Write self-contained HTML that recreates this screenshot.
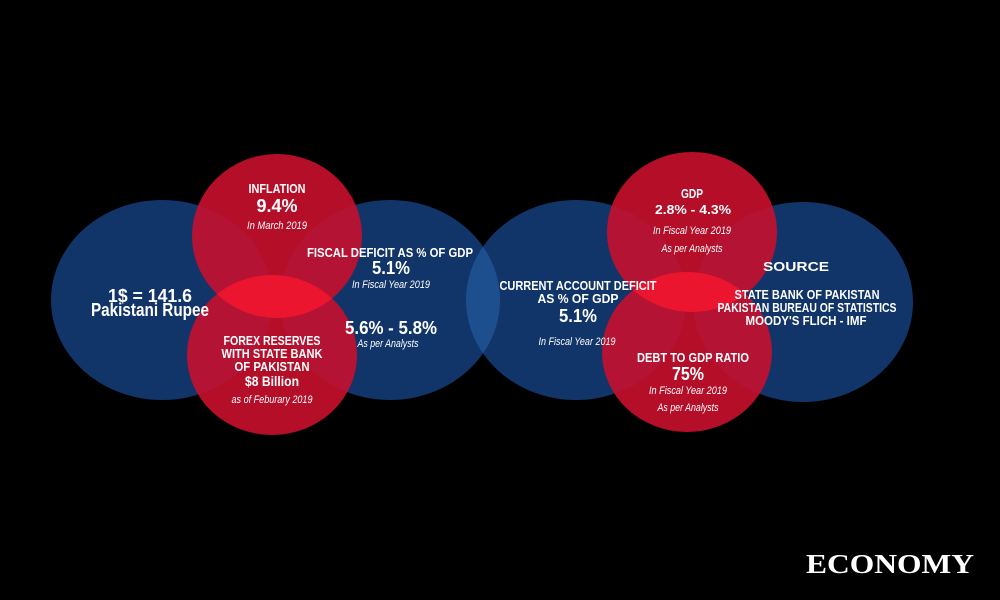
<!DOCTYPE html>
<html><head><meta charset="utf-8"><style>
html,body{margin:0;padding:0;background:#000;}
svg{display:block}
text{font-family:"Liberation Sans Narrow","Liberation Sans",sans-serif;fill:#fff;text-anchor:middle}
.b{font-weight:bold}
.i{font-style:italic;font-size:11px}
</style></head><body>
<svg width="1000" height="600" viewBox="0 0 1000 600">
<defs>
<clipPath id="c1"><ellipse cx="277" cy="236" rx="85" ry="82"/></clipPath>
<clipPath id="c2"><ellipse cx="692" cy="232" rx="85" ry="80"/></clipPath>
<clipPath id="cb1"><ellipse cx="390" cy="300" rx="110" ry="100"/></clipPath>
<clipPath id="cb2"><ellipse cx="803" cy="302" rx="110" ry="100"/></clipPath>
</defs>
<rect width="1000" height="600" fill="#000"/>
<g fill="#123a72" fill-opacity="0.92">
<ellipse cx="162" cy="300" rx="111" ry="100"/>
<ellipse cx="390" cy="300" rx="110" ry="100"/>
<ellipse cx="576" cy="300" rx="110" ry="100"/>
<ellipse cx="803" cy="302" rx="110" ry="100"/>
</g>
<ellipse cx="576" cy="300" rx="110" ry="100" fill="#1d4f8e" clip-path="url(#cb1)"/>
<ellipse cx="576" cy="300" rx="110" ry="100" fill="#1d4f8e" clip-path="url(#cb2)"/>
<g fill="#c8102e" fill-opacity="0.9">
<ellipse cx="277" cy="236" rx="85" ry="82"/>
<ellipse cx="272" cy="355" rx="85" ry="80"/>
<ellipse cx="692" cy="232" rx="85" ry="80"/>
<ellipse cx="687" cy="352" rx="85" ry="80"/>
</g>
<ellipse cx="272" cy="355" rx="85" ry="80" fill="#ec1530" clip-path="url(#c1)"/>
<ellipse cx="687" cy="352" rx="85" ry="80" fill="#ec1530" clip-path="url(#c2)"/>
<g lengthAdjust="spacingAndGlyphs">
<text x="277" y="193" class="b" font-size="13" textLength="57" lengthAdjust="spacingAndGlyphs">INFLATION</text>
<text x="277" y="212" class="b" font-size="18" textLength="41" lengthAdjust="spacingAndGlyphs">9.4%</text>
<text x="277" y="229" class="i" textLength="60" lengthAdjust="spacingAndGlyphs">In March 2019</text>

<text x="150" y="302" class="b" font-size="18" textLength="84" lengthAdjust="spacingAndGlyphs">1$ = 141.6</text>
<text x="150" y="316" class="b" font-size="18" textLength="118" lengthAdjust="spacingAndGlyphs">Pakistani Rupee</text>

<text x="390" y="257" class="b" font-size="13" textLength="166" lengthAdjust="spacingAndGlyphs">FISCAL DEFICIT AS % OF GDP</text>
<text x="391" y="274" class="b" font-size="18" textLength="38" lengthAdjust="spacingAndGlyphs">5.1%</text>
<text x="391" y="288" class="i" textLength="78" lengthAdjust="spacingAndGlyphs">In Fiscal Year 2019</text>
<text x="391" y="334" class="b" font-size="18" textLength="92" lengthAdjust="spacingAndGlyphs">5.6% - 5.8%</text>
<text x="388" y="347" class="i" textLength="61" lengthAdjust="spacingAndGlyphs">As per Analysts</text>

<text x="272" y="345" class="b" font-size="13" textLength="97" lengthAdjust="spacingAndGlyphs">FOREX RESERVES</text>
<text x="272" y="358" class="b" font-size="13" textLength="101" lengthAdjust="spacingAndGlyphs">WITH STATE BANK</text>
<text x="272" y="371" class="b" font-size="13" textLength="75" lengthAdjust="spacingAndGlyphs">OF PAKISTAN</text>
<text x="272" y="386" class="b" font-size="14" textLength="54" lengthAdjust="spacingAndGlyphs">$8 Billion</text>
<text x="272" y="403" class="i" textLength="81" lengthAdjust="spacingAndGlyphs">as of Feburary 2019</text>

<text x="578" y="290" class="b" font-size="13" textLength="157" lengthAdjust="spacingAndGlyphs">CURRENT ACCOUNT DEFICIT</text>
<text x="578" y="303" class="b" font-size="13" textLength="81" lengthAdjust="spacingAndGlyphs">AS % OF GDP</text>
<text x="578" y="322" class="b" font-size="18" textLength="38" lengthAdjust="spacingAndGlyphs">5.1%</text>
<text x="577" y="345" class="i" textLength="77" lengthAdjust="spacingAndGlyphs">In Fiscal Year 2019</text>

<text x="692" y="198" class="b" font-size="13" textLength="22" lengthAdjust="spacingAndGlyphs">GDP</text>
<text x="693" y="214" class="b" font-size="13" textLength="76" lengthAdjust="spacingAndGlyphs">2.8% - 4.3%</text>
<text x="692" y="234" class="i" textLength="78" lengthAdjust="spacingAndGlyphs">In Fiscal Year 2019</text>
<text x="692" y="252" class="i" textLength="61" lengthAdjust="spacingAndGlyphs">As per Analysts</text>

<text x="693" y="362" class="b" font-size="13" textLength="112" lengthAdjust="spacingAndGlyphs">DEBT TO GDP RATIO</text>
<text x="688" y="380" class="b" font-size="18" textLength="32" lengthAdjust="spacingAndGlyphs">75%</text>
<text x="688" y="394" class="i" textLength="78" lengthAdjust="spacingAndGlyphs">In Fiscal Year 2019</text>
<text x="688" y="411" class="i" textLength="61" lengthAdjust="spacingAndGlyphs">As per Analysts</text>

<text x="796" y="271" class="b" font-size="13" textLength="66" lengthAdjust="spacingAndGlyphs">SOURCE</text>
<text x="807" y="299" class="b" font-size="13" textLength="145" lengthAdjust="spacingAndGlyphs">STATE BANK OF PAKISTAN</text>
<text x="807" y="312" class="b" font-size="13" textLength="179" lengthAdjust="spacingAndGlyphs">PAKISTAN BUREAU OF STATISTICS</text>
<text x="806" y="325" class="b" font-size="13" textLength="121" lengthAdjust="spacingAndGlyphs">MOODY'S FLICH - IMF</text>
</g>
<text x="890" y="573" style="font-family:'Liberation Serif',serif" class="b" font-size="27" textLength="168" lengthAdjust="spacingAndGlyphs">ECONOMY</text>
</svg>
</body></html>
